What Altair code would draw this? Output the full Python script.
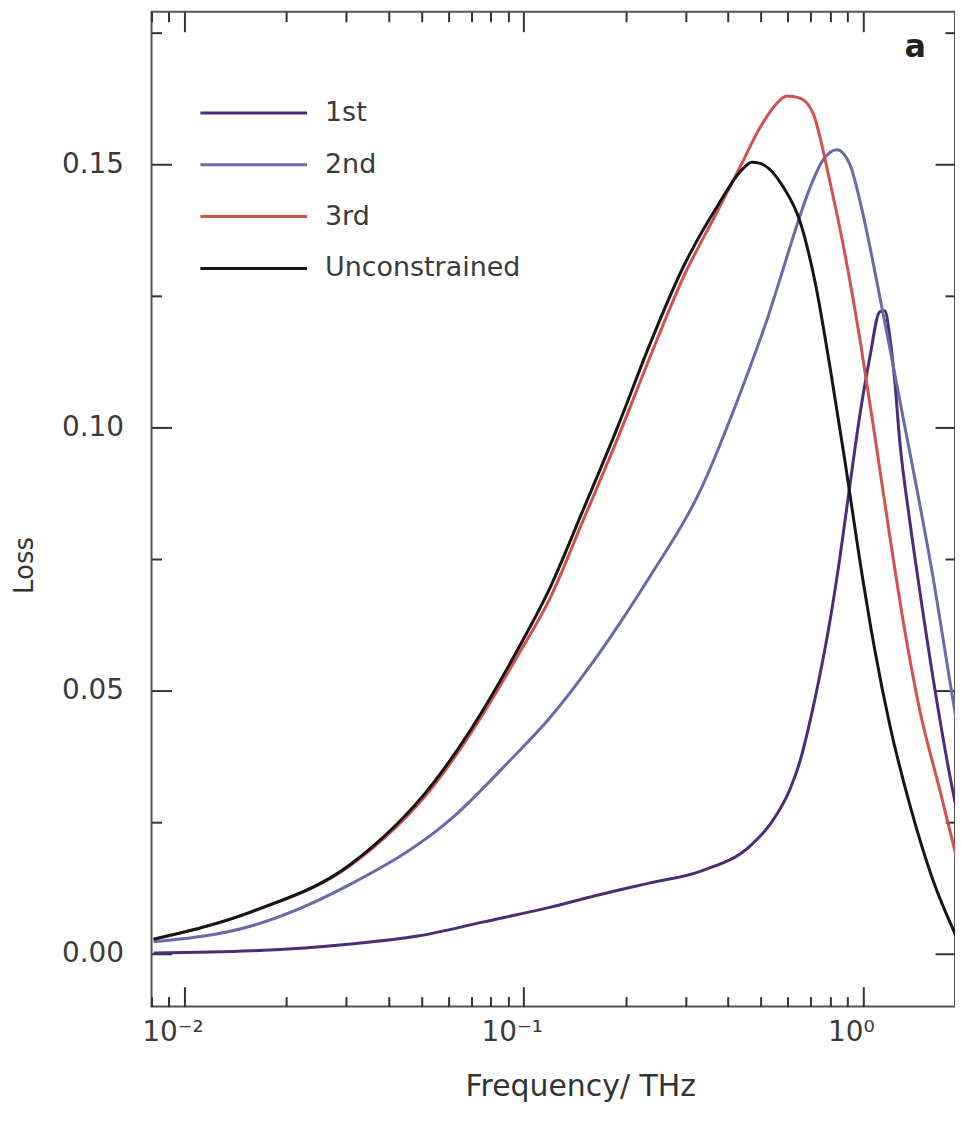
import altair as alt
import pandas as pd

series_names = ["1st", "2nd", "3rd", "Unconstrained"]
series_colors = ["#4b2d77", "#6a6aa8", "#d2514e", "#151515"]

freq_1st = [0.00811, 0.01574, 0.03098, 0.04878, 0.07626, 0.1201, 0.1684, 0.2362, 0.3317, 0.4651,
            0.5326, 0.6100, 0.6527, 0.6982, 0.7474, 0.7995, 0.8556, 0.9158, 0.9798, 1.0486,
            1.1220, 1.1607, 1.2003, 1.2420, 1.2848, 1.3748, 1.4712, 1.6503, 1.8030, 1.9024]
loss_1st = [0.0002, 0.0006, 0.0019, 0.0034, 0.0061, 0.0089, 0.0113, 0.0135, 0.0157, 0.0205,
            0.0246, 0.0313, 0.0366, 0.0441, 0.0530, 0.0631, 0.0752, 0.0890, 0.1023, 0.1133,
            0.1220, 0.1222, 0.1174, 0.1089, 0.0975, 0.0824, 0.0691, 0.0483, 0.0341, 0.0265]

freq_2nd = [0.00811, 0.01574, 0.03098, 0.06100, 0.09157, 0.1201, 0.1542, 0.1929, 0.2362, 0.3317,
            0.4146, 0.4651, 0.5220, 0.5816, 0.6395, 0.6982, 0.7627, 0.8385, 0.9158, 1.0,
            1.0996, 1.2003, 1.3111, 1.4418, 1.6067, 1.8030, 1.9024]
loss_2nd = [0.0023, 0.0053, 0.0133, 0.0256, 0.0369, 0.0450, 0.0540, 0.0630, 0.0718, 0.0880,
            0.1030, 0.1115, 0.1205, 0.1300, 0.1385, 0.1455, 0.1508, 0.1528, 0.1500, 0.1407,
            0.1278, 0.1152, 0.1023, 0.0885, 0.0720, 0.0521, 0.0430]

freq_3rd = [0.00811, 0.01574, 0.03098, 0.05435, 0.06983, 0.09602, 0.1201, 0.1501, 0.1890, 0.2362,
            0.2955, 0.3721, 0.4346, 0.4978, 0.5509, 0.5976, 0.6527, 0.7127, 0.7995, 0.8852,
            0.9798, 1.0846, 1.2003, 1.3285, 1.4712, 1.6846, 1.9024]
loss_3rd = [0.0028, 0.0080, 0.0169, 0.0320, 0.0419, 0.0566, 0.0678, 0.0825, 0.0978, 0.1135,
            0.1285, 0.1410, 0.1495, 0.1570, 0.1612, 0.1630, 0.1626, 0.1598, 0.1468, 0.1331,
            0.1169, 0.0985, 0.0795, 0.0616, 0.0464, 0.0313, 0.0175]

freq_unc = [0.00811, 0.01574, 0.03098, 0.05435, 0.06983, 0.09602, 0.1201, 0.1501, 0.1890, 0.2362,
            0.2955, 0.3721, 0.4437, 0.4708, 0.4978, 0.5816, 0.6527, 0.7225, 0.7995, 0.8852,
            0.9798, 1.0846, 1.2003, 1.3748, 1.6067, 1.9024]
loss_unc = [0.0028, 0.0080, 0.0171, 0.0326, 0.0426, 0.0578, 0.0698, 0.0845, 0.1000, 0.1160,
            0.1305, 0.1420, 0.1492, 0.1504, 0.1502, 0.1458, 0.1392, 0.1278, 0.1117, 0.0938,
            0.0748, 0.0578, 0.0436, 0.0284, 0.0142, 0.0028]

x_major = [0.01, 0.1, 1.0]
x_minor = [0.008, 0.009, 0.02, 0.03, 0.04, 0.05, 0.06, 0.07, 0.08, 0.09,
           0.2, 0.3, 0.4, 0.5, 0.6, 0.7, 0.8, 0.9]
y_major = [0.0, 0.05, 0.10, 0.15]
y_minor = [0.025, 0.075, 0.125, 0.175]
x_domain = [0.008, 1.87]
y_domain = [-0.010, 0.179]
panel_label = ["a"]

rows = []
for name, fs, ls in zip(series_names,
                        [freq_1st, freq_2nd, freq_3rd, freq_unc],
                        [loss_1st, loss_2nd, loss_3rd, loss_unc]):
    for f, l in zip(fs, ls):
        rows.append({"series": name, "freq": f, "loss": l})
df = pd.DataFrame(rows)

FONT = "DejaVu Sans"
W, H = 806, 998
MAJ, MIN = 20, 10

xscale = alt.Scale(type="log", domain=x_domain, nice=False, zero=False)
yscale = alt.Scale(domain=y_domain, nice=False, zero=False)

label_expr = "'10' + (datum.value < 0.05 ? '⁻²' : (datum.value < 0.5 ? '⁻¹' : '⁰'))"

common = dict(domain=False, grid=False, tickColor="#333", tickWidth=2,
              labelFont=FONT, labelColor="#3a3a3a", titleFont=FONT,
              titleColor="#333", titleFontWeight="normal")

x_bottom_major = alt.Axis(orient="bottom", values=x_major, labelExpr=label_expr,
                          tickSize=MAJ, offset=-MAJ, labelFontSize=28, labelPadding=12,
                          labelOffset=-12,
                          title="Frequency/ THz", titleFontSize=30,
                          titleX=430, titleY=100, titleBaseline="middle", **common)
y_left_major = alt.Axis(orient="left", values=y_major, format=".2f",
                        tickSize=MAJ, offset=-MAJ, labelFontSize=28, labelPadding=28,
                        title="Loss", titleFontSize=26, titleX=-147, titleY=555,
                        titleBaseline="middle", titleAlign="center", **common)

def tick_axis(orient, values, size):
    return alt.Axis(orient=orient, values=values, tickSize=size, offset=-size,
                    labels=False, title=None, **common)

lines = alt.Chart(df).mark_line(strokeWidth=3, clip=True, interpolate="monotone").encode(
    x=alt.X("freq:Q", scale=xscale, axis=x_bottom_major),
    y=alt.Y("loss:Q", scale=yscale, axis=y_left_major),
    color=alt.Color("series:N",
                    scale=alt.Scale(domain=series_names, range=series_colors),
                    legend=alt.Legend(orient="none", legendX=89, legendY=88, title=None,
                                      symbolType="M-5,0L5,0", symbolSize=458,
                                      symbolStrokeWidth=3, labelFontSize=27, labelFont=FONT,
                                      labelColor="#3a3a3a", labelOffset=58, rowPadding=24,
                                      labelLimit=0, padding=0)),
    order=alt.Order("freq:Q"),
)

def carrier(xax, yax):
    return alt.Chart(df).mark_line(strokeOpacity=0).encode(
        x=alt.X("freq:Q", scale=xscale, axis=xax),
        y=alt.Y("loss:Q", scale=yscale, axis=yax),
        detail="series:N",
    )

c2 = carrier(tick_axis("bottom", x_minor, MIN), tick_axis("left", y_minor, MIN))
c3 = carrier(tick_axis("top", x_major, MAJ), tick_axis("right", y_major, MAJ))
c4 = carrier(tick_axis("top", x_minor, MIN), tick_axis("right", y_minor, MIN))

label = alt.Chart(pd.DataFrame({"t": panel_label})).mark_text(
    font=FONT, fontSize=32, fontWeight="bold", color="#222"
).encode(text="t:N", x=alt.value(918 - 152), y=alt.value(45 - 10))

chart = alt.layer(lines, c2, c3, c4, label).resolve_axis(
    x="independent", y="independent"
).properties(
    width=W, height=H, autosize="none", background="white",
    padding={"left": 144, "top": 2, "right": 0, "bottom": 104},
).configure_view(stroke="#555", strokeWidth=2)

chart.save("out.html", embed_options={"renderer": "svg", "actions": False})
